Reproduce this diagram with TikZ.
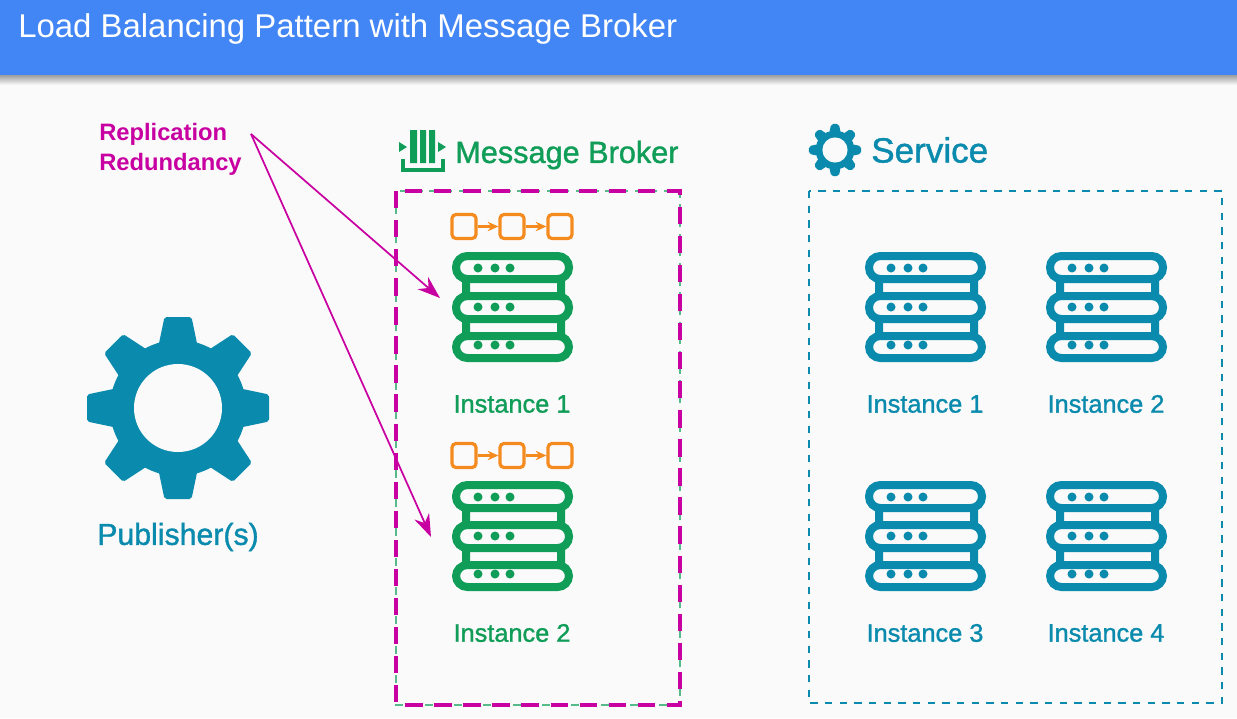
\documentclass[tikz,border=0pt]{standalone}
\usepackage{fontspec}
\setmainfont{Liberation Sans}
\newfontfamily\medfont[FakeBold=1.2]{Liberation Sans}
\usetikzlibrary{arrows.meta}
\definecolor{pagebg}{HTML}{FAFAFA}
\definecolor{barblue}{HTML}{4285F4}
\definecolor{svcteal}{HTML}{0A8BAE}
\definecolor{brkgreen}{HTML}{0F9D58}
\definecolor{qorange}{HTML}{F58A1F}
\definecolor{notemag}{HTML}{C800A1}
\tikzset{
  instlabel/.style={font=\medfont\fontsize{19}{21}\selectfont},
  headlabel/.style={font=\medfont\fontsize{23}{28}\selectfont},
  qbox/.style={draw=qorange,line width=2.4pt,rounded corners=3pt,minimum size=18pt,inner sep=0pt,fill=pagebg},
  pics/serverstack/.style={code={
    \fill[#1] (10,27) rectangle (18,44) (105,27) rectangle (113,44);
    \fill[#1] (10,67) rectangle (18,84) (105,67) rectangle (113,84);
    \foreach \ya/\yb in {4/27,44/67,84/106}{
      \draw[#1,fill=pagebg,line width=6pt,rounded corners=8.5pt] (4,\ya) rectangle (117,\yb);
    }
    \foreach \yd in {16,55,93}{
      \foreach \xd in {26,43,58}{
        \fill[#1] (\xd,\yd) circle (4.5);
      }
    }
  }},
  pics/cogwheel/.style={code={
    \fill[svcteal] (0,0) circle (68);
    \foreach \a in {0,45,...,315}{
      \fill[svcteal,rotate=\a,rounded corners=1.5pt] (-20,-60) -- (-13.5,-91) -- (13.5,-91) -- (20,-60) -- cycle;
    }
    \fill[pagebg] (0,0) circle (44);
  }},
  pics/msgqueue/.style={code={
    \node[qbox] (-a) at (13,12.5) {};
    \node[qbox] (-b) at (61,12.5) {};
    \node[qbox] (-c) at (109,12.5) {};
    \draw[qorange,line width=2pt,-{Stealth[length=8pt,width=7pt]}] (-a) -- (-b);
    \draw[qorange,line width=2pt,-{Stealth[length=8pt,width=7pt]}] (-b) -- (-c);
  }}
}
\begin{document}
\begin{tikzpicture}[x=0.75pt,y=-0.75pt]
  \useasboundingbox (0,0) rectangle (1237,718);
  \fill[pagebg] (0,0) rectangle (1237,718);
  % top bar
  \shade[top color=black!38,bottom color=pagebg] (0,75) rectangle (1237,85);
  \fill[barblue] (0,0) rectangle (1237,75);
  \node[font=\fontsize{24.7}{28}\selectfont,text=white,anchor=west,inner sep=0pt] (title) at (18,28.5) {Load Balancing Pattern with Message Broker};
  % publisher
  \pic (pubgear) at (178,408) {cogwheel};
  \node[text=svcteal,font=\medfont\fontsize{22.7}{25}\selectfont] (pub) at (178,537) {Publisher(s)};
  % broker
  \fill[brkgreen] (410,130) rectangle (417,163) (420,130) rectangle (426,163) (429,130) rectangle (435,163);
  \fill[brkgreen] (399,142) -- (407,147) -- (399,152) -- cycle;
  \fill[brkgreen] (438,142) -- (446,147) -- (438,152) -- cycle;
  \draw[brkgreen,line width=2.5pt] (403,159) -- (403,170) -- (443,170) -- (443,159);
  \node[headlabel,text=brkgreen,anchor=west,inner sep=0pt] (brokerhead) at (455,155) {Message Broker};
  \draw[brkgreen!70,line width=1.4pt,dash pattern=on 6pt off 5pt] (396,191) rectangle (680,705);
  \draw[notemag,line width=2.6pt,dash pattern=on 13pt off 8.8pt] (396,191) rectangle (680,705);
  \pic (q1) at (451,214) {msgqueue};
  \pic (q2) at (451,443) {msgqueue};
  \pic (bk1) at (452,252) {serverstack=brkgreen};
  \pic (bk2) at (452,481) {serverstack=brkgreen};
  \node[instlabel,text=brkgreen] (bklabel1) at (512,404) {Instance 1};
  \node[instlabel,text=brkgreen] (bklabel2) at (512,633) {Instance 2};
  % service
  \pic[scale=0.286] (svcgear) at (835,150) {cogwheel};
  \node[text=svcteal,font=\medfont\fontsize{26.3}{30}\selectfont,anchor=west,inner sep=0pt] (svchead) at (871,150) {Service};
  \draw[svcteal,line width=1.9pt,dash pattern=on 5.5pt off 5.5pt] (809,191) rectangle (1222,703);
  \pic (sv1) at (865,252) {serverstack=svcteal};
  \pic (sv2) at (1046,252) {serverstack=svcteal};
  \pic (sv3) at (865,481) {serverstack=svcteal};
  \pic (sv4) at (1046,481) {serverstack=svcteal};
  \node[instlabel,text=svcteal] (svlabel1) at (925,404) {Instance 1};
  \node[instlabel,text=svcteal] (svlabel2) at (1106,404) {Instance 2};
  \node[instlabel,text=svcteal] (svlabel3) at (925,633) {Instance 3};
  \node[instlabel,text=svcteal] (svlabel4) at (1106,633) {Instance 4};
  % note
  \node[text=notemag,font=\bfseries\fontsize{17.8}{22.5}\selectfont,align=left,anchor=west,inner sep=0pt] (note) at (99,149) {Replication\\Redundancy};
  \coordinate (fan) at (251,134);
  \coordinate (tip1) at (440,298);
  \coordinate (tip2) at (431,537);
  \draw[notemag,line width=1.3pt,-{Stealth[length=17pt,width=12pt]}] (fan) -- (tip1);
  \draw[notemag,line width=1.3pt,-{Stealth[length=17pt,width=12pt]}] (fan) -- (tip2);
\end{tikzpicture}
\end{document}
